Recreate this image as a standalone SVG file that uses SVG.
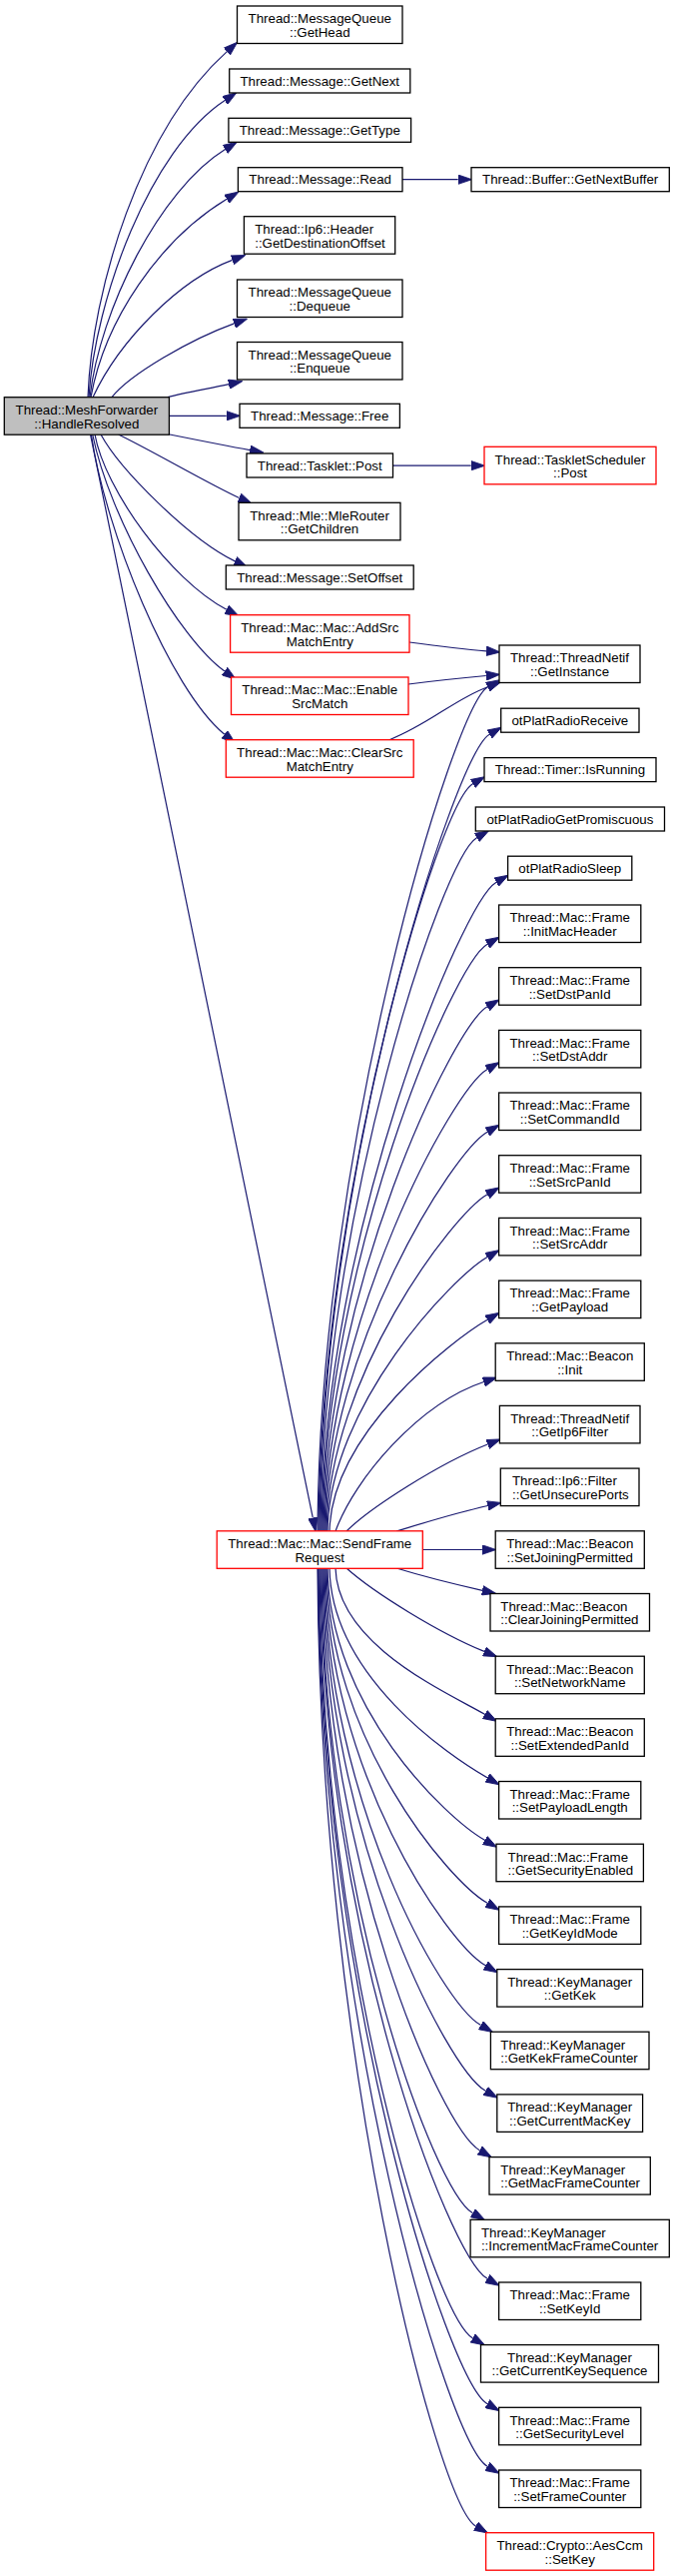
<svg xmlns="http://www.w3.org/2000/svg" width="676" height="2579" viewBox="0 0 676 2579">
<style>
.n rect{fill:#ffffff;stroke:#000000;stroke-width:1.3}
.r rect{fill:#ffffff;stroke:#ff0000;stroke-width:1.3}
.g rect{fill:#bfbfbf;stroke:#000000;stroke-width:1.3}
text{font-family:"Liberation Sans",Arial,Helvetica,sans-serif;font-size:13.3px;fill:#000000;text-anchor:middle}
text.l{text-anchor:start}
#edges path{fill:none;stroke:#191970;stroke-width:1.2;marker-end:url(#ah)}
</style>
<defs>
<marker id="ah" markerUnits="userSpaceOnUse" markerWidth="14" markerHeight="10" viewBox="0 0 13.3 9" refX="0" refY="4.5" orient="auto">
<path d="M0,0 L13.3,4.5 L0,9 z" fill="#191970" stroke="#191970" stroke-width="0.8"/>
</marker>
</defs>
<rect x="0" y="0" width="676" height="2579" fill="#ffffff"/>
<g id="edges">
<path d="M88,397.7 C92,290 140,130 227.3,51.6"/>
<path d="M89,397.7 C95,300 150,150 225.2,100.5"/>
<path d="M90,397.7 C100,310 160,190 225.5,149.5"/>
<path d="M91,397.7 C105,320 160,240 227.1,199.3"/>
<path d="M93,397.7 C120,340 180,280 232.6,260.4"/>
<path d="M112,397.7 C130,375 190,340 234.5,323.9"/>
<path d="M168,397.7 C185,393 210,389 229.1,384.7"/>
<path d="M169.4,416.3 L226.7,416.3"/>
<path d="M170,435 C195,440 225,446 250.2,450.6"/>
<path d="M118.5,435 C150,450 210,485 239.6,498.5"/>
<path d="M101,435 C120,470 190,540 235.3,561.9"/>
<path d="M95,435 C105,490 170,580 226.85,610.3"/>
<path d="M92.7,435 C110,520 180,640 224.95,672.1"/>
<path d="M91.4,435 C105,530 170,690 224.85,735.3"/>
<path d="M90.5,435 L313.3,1519.7"/>
<path d="M403,179.7 L458.7,179.7"/>
<path d="M393.5,466.2 L471.7,466.2"/>
<path d="M410,643 C440,647 465,650 487.1,651.8"/>
<path d="M409,685 C440,681 465,678.5 486.8,676.5"/>
<path d="M390,740.7 C430,725 455,700 488.5,687.7"/>
<path d="M318,1533 C320,1149.6 453.9,707.65 488.5,687.65"/>
<path d="M319,1533 C321,1171 455.6,755.15 490.2,735.15"/>
<path d="M320,1533 C322,1193.25 438.9,804.65 473.5,784.65"/>
<path d="M321,1533 C323,1217.55 442.9,858.65 477.5,838.65"/>
<path d="M322,1533 C324,1237.6 462.5,903.15 497.1,883.15"/>
<path d="M323,1533 C325,1265.5 453.5,965.15 488.1,945.15"/>
<path d="M324,1533 C326,1293.7 453.5,1027.85 488.1,1007.85"/>
<path d="M325,1533 C327,1321.9 453.5,1090.55 488.1,1070.55"/>
<path d="M326,1533 C328,1350.1 453.5,1153.15 488.1,1133.15"/>
<path d="M327,1533 C329,1378.3 453.5,1215.85 488.1,1195.85"/>
<path d="M328,1533 C330,1406.5 453.5,1278.55 488.1,1258.55"/>
<path d="M330,1533 C332,1434.7 453.5,1341.25 488.1,1321.25"/>
<path d="M336,1533 C355,1480 420,1405 484.5,1383.5"/>
<path d="M347,1533 C370,1510 440,1465 488.4,1446"/>
<path d="M397,1533 C420,1526 455,1515 488.4,1507.5"/>
<path d="M423.3,1551.5 L482.9,1551.5"/>
<path d="M397,1570 C420,1577 455,1586 483.1,1592.3"/>
<path d="M347,1570 C375,1595 440,1635 485,1653.4"/>
<path d="M336,1570 C338,1646.5 446.5,1693.85 485.5,1716.35"/>
<path d="M330,1570 C332,1678.25 449.1,1757.35 488.1,1779.85"/>
<path d="M328,1570 C330,1709.5 446.5,1819.85 485.5,1842.35"/>
<path d="M327,1570 C329,1741 449.1,1882.85 488.1,1905.35"/>
<path d="M326,1570 C328,1772.25 447.3,1945.35 486.3,1967.85"/>
<path d="M325,1570 C327,1802.1 442.5,2005.05 481.5,2027.55"/>
<path d="M324,1570 C326,1835 447.3,2070.85 486.3,2093.35"/>
<path d="M323,1570 C325,1864.8 441.5,2130.45 480.5,2152.95"/>
<path d="M322,1570 C324,1896.15 434.5,2193.15 473.5,2215.65"/>
<path d="M321,1570 C323,1929 449.1,2258.85 488.1,2281.35"/>
<path d="M320,1570 C322,1958.8 434.5,2318.45 473.5,2340.95"/>
<path d="M319,1570 C321,1991.65 449.1,2384.15 488.1,2406.65"/>
<path d="M318.5,1570 C320.5,2023 449.1,2446.85 488.1,2469.35"/>
<path d="M318,1570 C320,2052.85 437.5,2506.55 476.5,2529.05"/>
</g>
<g id="n_root" class="g"><rect x="4.3" y="397.7" width="165.1" height="37.5"/><text x="86.85" y="415">Thread::MeshForwarder</text><text x="86.85" y="428.5">::HandleResolved</text></g>
<g id="n_gethead" class="n"><rect x="237.5" y="6" width="165.5" height="37.5"/><text x="320.25" y="23.3">Thread::MessageQueue</text><text x="320.25" y="36.8">::GetHead</text></g>
<g id="n_getnext" class="n"><rect x="229.7" y="69" width="181.1" height="24"/><text x="320.25" y="85.5">Thread::Message::GetNext</text></g>
<g id="n_gettype" class="n"><rect x="228.9" y="118.3" width="182.7" height="24"/><text x="320.25" y="134.8">Thread::Message::GetType</text></g>
<g id="n_read" class="n"><rect x="238.4" y="167.7" width="164.6" height="24"/><text x="320.7" y="184.2">Thread::Message::Read</text></g>
<g id="n_getnextbuffer" class="n"><rect x="472" y="167.7" width="198.3" height="24"/><text x="571.15" y="184.2">Thread::Buffer::GetNextBuffer</text></g>
<g id="n_ip6header" class="n"><rect x="244.4" y="216.7" width="151.3" height="37.5"/><text class="l" x="255.2" y="234">Thread::Ip6::Header</text><text class="l" x="255.2" y="247.5">::GetDestinationOffset</text></g>
<g id="n_dequeue" class="n"><rect x="237.5" y="280" width="165.5" height="37.5"/><text x="320.25" y="297.3">Thread::MessageQueue</text><text x="320.25" y="310.8">::Dequeue</text></g>
<g id="n_enqueue" class="n"><rect x="237.5" y="342.5" width="165.5" height="37.5"/><text x="320.25" y="359.8">Thread::MessageQueue</text><text x="320.25" y="373.3">::Enqueue</text></g>
<g id="n_free" class="n"><rect x="240" y="404.3" width="160.4" height="24"/><text x="320.2" y="420.8">Thread::Message::Free</text></g>
<g id="n_taskletpost" class="n"><rect x="247" y="454" width="146.5" height="24"/><text x="320.25" y="470.5">Thread::Tasklet::Post</text></g>
<g id="n_schedpost" class="r"><rect x="485" y="447.3" width="172" height="37.5"/><text x="571" y="464.6">Thread::TaskletScheduler</text><text x="571" y="478.1">::Post</text></g>
<g id="n_getchildren" class="n"><rect x="239" y="503.3" width="162" height="37.5"/><text x="320" y="520.6">Thread::Mle::MleRouter</text><text x="320" y="534.1">::GetChildren</text></g>
<g id="n_setoffset" class="n"><rect x="226.3" y="566" width="187.9" height="24"/><text x="320.25" y="582.5">Thread::Message::SetOffset</text></g>
<g id="n_addsrc" class="r"><rect x="230.6" y="615.7" width="179.4" height="37.5"/><text x="320.3" y="633">Thread::Mac::Mac::AddSrc</text><text x="320.3" y="646.5">MatchEntry</text></g>
<g id="n_enablesrc" class="r"><rect x="231.5" y="678" width="177.5" height="37.5"/><text x="320.25" y="695.3">Thread::Mac::Mac::Enable</text><text x="320.25" y="708.8">SrcMatch</text></g>
<g id="n_clearsrc" class="r"><rect x="226.3" y="740.7" width="187.9" height="37.5"/><text x="320.25" y="758">Thread::Mac::Mac::ClearSrc</text><text x="320.25" y="771.5">MatchEntry</text></g>
<g id="n_sendframe" class="r"><rect x="217.2" y="1532.8" width="206.1" height="37.5"/><text x="320.25" y="1550.1">Thread::Mac::Mac::SendFrame</text><text x="320.25" y="1563.6">Request</text></g>
<g id="n_getinstance" class="n"><rect x="500" y="646" width="141" height="37.5"/><text x="570.5" y="663.3">Thread::ThreadNetif</text><text x="570.5" y="676.8">::GetInstance</text></g>
<g id="n_receive" class="n"><rect x="501.7" y="709.2" width="138.3" height="24"/><text x="570.85" y="725.7">otPlatRadioReceive</text></g>
<g id="n_isrunning" class="n"><rect x="485" y="758.6" width="172" height="24"/><text x="571" y="775.1">Thread::Timer::IsRunning</text></g>
<g id="n_promisc" class="n"><rect x="476.3" y="808" width="189.2" height="24"/><text x="570.9" y="824.5">otPlatRadioGetPromiscuous</text></g>
<g id="n_sleep" class="n"><rect x="508.6" y="857.2" width="124.2" height="24"/><text x="570.7" y="873.7">otPlatRadioSleep</text></g>
<g id="n_initmac" class="n"><rect x="499.6" y="906" width="142.2" height="37.5"/><text x="570.7" y="923.3">Thread::Mac::Frame</text><text x="570.7" y="936.8">::InitMacHeader</text></g>
<g id="n_setdstpan" class="n"><rect x="499.6" y="968.7" width="142.2" height="37.5"/><text x="570.7" y="986">Thread::Mac::Frame</text><text x="570.7" y="999.5">::SetDstPanId</text></g>
<g id="n_setdstaddr" class="n"><rect x="499.6" y="1031.4" width="142.2" height="37.5"/><text x="570.7" y="1048.7">Thread::Mac::Frame</text><text x="570.7" y="1062.2">::SetDstAddr</text></g>
<g id="n_setcmd" class="n"><rect x="499.6" y="1094" width="142.2" height="37.5"/><text x="570.7" y="1111.3">Thread::Mac::Frame</text><text x="570.7" y="1124.8">::SetCommandId</text></g>
<g id="n_setsrcpan" class="n"><rect x="499.6" y="1156.7" width="142.2" height="37.5"/><text x="570.7" y="1174">Thread::Mac::Frame</text><text x="570.7" y="1187.5">::SetSrcPanId</text></g>
<g id="n_setsrcaddr" class="n"><rect x="499.6" y="1219.4" width="142.2" height="37.5"/><text x="570.7" y="1236.7">Thread::Mac::Frame</text><text x="570.7" y="1250.2">::SetSrcAddr</text></g>
<g id="n_getpayload" class="n"><rect x="499.6" y="1282.1" width="142.2" height="37.5"/><text x="570.7" y="1299.4">Thread::Mac::Frame</text><text x="570.7" y="1312.9">::GetPayload</text></g>
<g id="n_beaconinit" class="n"><rect x="496.2" y="1344.8" width="149.1" height="37.5"/><text x="570.75" y="1362.1">Thread::Mac::Beacon</text><text x="570.75" y="1375.6">::Init</text></g>
<g id="n_getip6filter" class="n"><rect x="500.4" y="1407.4" width="140.6" height="37.5"/><text x="570.7" y="1424.7">Thread::ThreadNetif</text><text x="570.7" y="1438.2">::GetIp6Filter</text></g>
<g id="n_unsecure" class="n"><rect x="501.3" y="1470.1" width="138.7" height="37.5"/><text class="l" x="513" y="1487.4">Thread::Ip6::Filter</text><text class="l" x="513" y="1500.9">::GetUnsecurePorts</text></g>
<g id="n_setjoin" class="n"><rect x="496.2" y="1532.8" width="149.1" height="37.5"/><text x="570.75" y="1550.1">Thread::Mac::Beacon</text><text x="570.75" y="1563.6">::SetJoiningPermitted</text></g>
<g id="n_clearjoin" class="n"><rect x="491" y="1595.5" width="159.5" height="37.5"/><text class="l" x="501.3" y="1612.8">Thread::Mac::Beacon</text><text class="l" x="501.3" y="1626.3">::ClearJoiningPermitted</text></g>
<g id="n_setnetname" class="n"><rect x="496.2" y="1658.2" width="149.1" height="37.5"/><text x="570.75" y="1675.5">Thread::Mac::Beacon</text><text x="570.75" y="1689">::SetNetworkName</text></g>
<g id="n_setextpan" class="n"><rect x="496.2" y="1720.8" width="149.1" height="37.5"/><text x="570.75" y="1738.1">Thread::Mac::Beacon</text><text x="570.75" y="1751.6">::SetExtendedPanId</text></g>
<g id="n_setpaylen" class="n"><rect x="499.6" y="1783.5" width="142.2" height="37.5"/><text x="570.7" y="1800.8">Thread::Mac::Frame</text><text x="570.7" y="1814.3">::SetPayloadLength</text></g>
<g id="n_getsecen" class="n"><rect x="497" y="1846.2" width="147.4" height="37.5"/><text class="l" x="508.6" y="1863.5">Thread::Mac::Frame</text><text class="l" x="508.6" y="1877">::GetSecurityEnabled</text></g>
<g id="n_getkeyidmode" class="n"><rect x="499.6" y="1908.9" width="142.2" height="37.5"/><text x="570.7" y="1926.2">Thread::Mac::Frame</text><text x="570.7" y="1939.7">::GetKeyIdMode</text></g>
<g id="n_getkek" class="n"><rect x="497.8" y="1971.6" width="145.8" height="37.5"/><text x="570.7" y="1988.9">Thread::KeyManager</text><text x="570.7" y="2002.4">::GetKek</text></g>
<g id="n_getkekfc" class="n"><rect x="491.4" y="2034.2" width="158.6" height="37.5"/><text class="l" x="501.3" y="2051.5">Thread::KeyManager</text><text class="l" x="501.3" y="2065">::GetKekFrameCounter</text></g>
<g id="n_getcurmackey" class="n"><rect x="497.8" y="2096.9" width="145.8" height="37.5"/><text x="570.7" y="2114.2">Thread::KeyManager</text><text x="570.7" y="2127.7">::GetCurrentMacKey</text></g>
<g id="n_getmacfc" class="n"><rect x="490" y="2159.6" width="161.3" height="37.5"/><text class="l" x="501.3" y="2176.9">Thread::KeyManager</text><text class="l" x="501.3" y="2190.4">::GetMacFrameCounter</text></g>
<g id="n_incmacfc" class="n"><rect x="471.1" y="2222.3" width="199.2" height="37.5"/><text class="l" x="481.9" y="2239.6">Thread::KeyManager</text><text class="l" x="481.9" y="2253.1">::IncrementMacFrameCounter</text></g>
<g id="n_setkeyid" class="n"><rect x="499.6" y="2285" width="142.2" height="37.5"/><text x="570.7" y="2302.3">Thread::Mac::Frame</text><text x="570.7" y="2315.8">::SetKeyId</text></g>
<g id="n_getcurkeyseq" class="n"><rect x="481.5" y="2347.6" width="178" height="37.5"/><text x="570.5" y="2364.9">Thread::KeyManager</text><text x="570.5" y="2378.4">::GetCurrentKeySequence</text></g>
<g id="n_getseclevel" class="n"><rect x="499.6" y="2410.3" width="142.2" height="37.5"/><text x="570.7" y="2427.6">Thread::Mac::Frame</text><text x="570.7" y="2441.1">::GetSecurityLevel</text></g>
<g id="n_setframecounter" class="n"><rect x="499.6" y="2473" width="142.2" height="37.5"/><text x="570.7" y="2490.3">Thread::Mac::Frame</text><text x="570.7" y="2503.8">::SetFrameCounter</text></g>
<g id="n_setkey" class="r"><rect x="486.6" y="2535.7" width="168.1" height="37.5"/><text x="570.65" y="2553">Thread::Crypto::AesCcm</text><text x="570.65" y="2566.5">::SetKey</text></g>
</svg>
